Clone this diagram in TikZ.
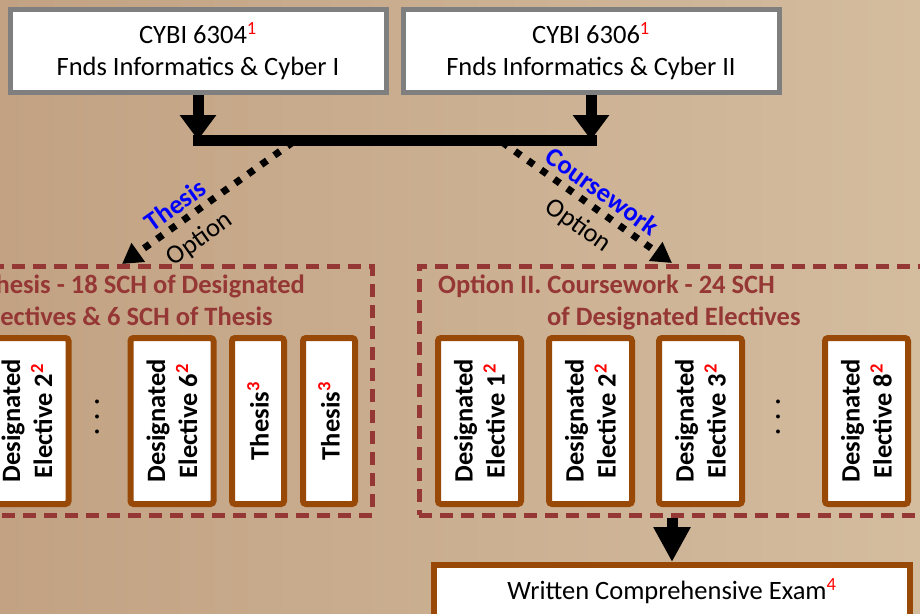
\documentclass[tikz,border=0pt]{standalone}
\usepackage{fontspec}
\setmainfont{Carlito}
\usepackage{tikz}
\usetikzlibrary{arrows.meta}
\definecolor{boxgray}{HTML}{7F7F7F}
\definecolor{elecbrown}{HTML}{984807}
\definecolor{optred}{HTML}{953735}
\definecolor{bgdark}{HTML}{C2A283}
\definecolor{bglight}{HTML}{D4BC9F}
\newcommand{\chartfont}{\fontsize{26.5}{32}\selectfont}
\newcommand{\refmark}[1]{\textsuperscript{\color{red}#1}}
\tikzstyle{course} = [draw=boxgray, line width=5pt, fill=white, minimum width=376pt,
minimum height=83pt, align=center, font=\chartfont]
\tikzstyle{elective} = [draw=elecbrown, line width=6pt, fill=white, rounded corners=3pt,
rotate=90, minimum width=166pt, minimum height=83pt, align=center, font=\chartfont\bfseries]
\tikzstyle{thesisbox} = [elective, minimum height=52pt]
\tikzstyle{more} = [rotate=90, font=\chartfont\bfseries]
\tikzstyle{group} = [draw=optred, line width=5pt, dash pattern=on 13pt off 8pt, minimum height=249pt]
\tikzstyle{grouptitle} = [text=optred, font=\chartfont\bfseries, inner sep=0pt]
\tikzstyle{flow} = [line width=11pt, -{Triangle[length=25pt,width=35pt]}]
\tikzstyle{option} = [line width=7pt, dash pattern=on 7pt off 9pt, -{Triangle[length=20pt,width=22pt]}]
\tikzstyle{exam} = [draw=elecbrown, line width=6pt, fill=white, minimum width=476pt,
minimum height=52pt, font=\chartfont]
\begin{document}
\begin{tikzpicture}[x=1pt,y=-1pt]
  \useasboundingbox (0,0) rectangle (920,613);
  \shade[left color=bgdark, right color=bglight] (0,0) rectangle (920,613);
  \clip (0,0) rectangle (920,613);

  % core courses
  \node [course] (c1) at (198,51) {CYBI 6304\refmark{1}\\Fnds Informatics \& Cyber I};
  \node [course] (c2) at (591,51) {CYBI 6306\refmark{1}\\Fnds Informatics \& Cyber II};

  % the two options
  \node [group, minimum width=412pt] (opt1) at (166,390.5) {};
  \node [group, minimum width=541pt] (opt2) at (689.5,390.5) {};
  \node [grouptitle, anchor=base east, align=right] (t1) at (305,325)
    {hesis - 18 SCH of Designated\\ectives \& 6 SCH of Thesis\hspace*{32pt}};
  \node [grouptitle, anchor=base west, align=left] (t2) at (438,325)
    {Option II. Coursework - 24 SCH\\\hspace*{109pt}of Designated Electives};

  % thesis option
  \node [elective] (l2) at (27,421) {Designated\\Elective 2\refmark{2}};
  \node [more] (ldots) at (97,417) {. . .};
  \node [elective] (l6) at (172,421) {Designated\\Elective 6\refmark{2}};
  \node [thesisbox] (th1) at (258,421) {Thesis\refmark{3}};
  \node [thesisbox] (th2) at (329,421) {Thesis\refmark{3}};

  % coursework option
  \node [elective] (e1) at (479.5,421) {Designated\\Elective 1\refmark{2}};
  \node [elective] (e2) at (590.5,421) {Designated\\Elective 2\refmark{2}};
  \node [elective] (e3) at (700.5,421) {Designated\\Elective 3\refmark{2}};
  \node [more] (edots) at (778,417) {. . .};
  \node [elective] (e8) at (866.5,421) {Designated\\Elective 8\refmark{2}};

  \node [exam] (exam) at (672,591) {Written Comprehensive Exam\refmark{4}};

  % split into the options
  \coordinate (bar) at (0,140);
  \coordinate (split1) at (293,142);
  \coordinate (split2) at (502,142);
  \coordinate (tip1) at (122,264);
  \coordinate (tip2) at (672,263);
  \draw[option] (split1) -- (tip1)
    node[pos=.63, sloped, above=1pt, text=blue, font=\chartfont\bfseries] {Thesis}
    node[pos=.63, sloped, below=7pt, font=\chartfont] {Option};
  \draw[option] (split2) -- (tip2)
    node[pos=.53, sloped, above=2pt, text=blue, font=\chartfont\bfseries] {Coursework}
    node[pos=.53, sloped, below=6pt, font=\chartfont] {Option};

  \draw[line width=11pt, line cap=rect] (c1.south |- bar) -- (c2.south |- bar);
  \draw[flow] (c1.south) -- (c1.south |- bar);
  \draw[flow] (c2.south) -- (c2.south |- bar);
  \draw[flow, -{Triangle[length=35pt,width=35pt]}] (exam.north |- opt2.south) -- (exam.north);
\end{tikzpicture}
\end{document}
